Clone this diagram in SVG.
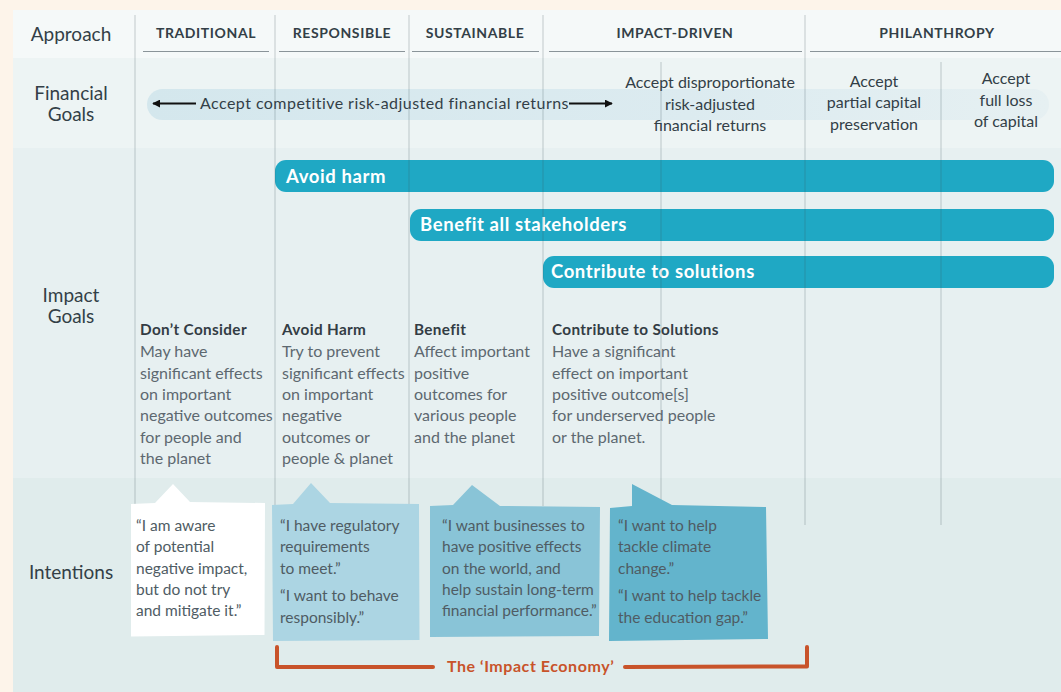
<svg xmlns="http://www.w3.org/2000/svg" width="1061" height="692" viewBox="0 0 1061 692">
<defs>
<style>
.lbl{font-family:Lato,"Liberation Sans",sans-serif;font-size:19px;fill:#333f47;text-anchor:middle}
.hd{font-family:Lato,"Liberation Sans",sans-serif;font-size:14px;font-weight:700;fill:#333f47;letter-spacing:0.6px;text-anchor:middle}
.fin{font-family:Lato,"Liberation Sans",sans-serif;font-size:16px;fill:#333f47;letter-spacing:0.45px}
.finc{font-family:Lato,"Liberation Sans",sans-serif;font-size:16px;fill:#333f47;text-anchor:middle}
.bar{fill:#1fa8c4}
.bt{font-family:Lato,"Liberation Sans",sans-serif;font-size:18.5px;font-weight:700;fill:#ffffff;letter-spacing:0.6px}
.ch{font-family:Lato,"Liberation Sans",sans-serif;font-size:15.3px;font-weight:700;fill:#333c44;letter-spacing:0.35px}
.cb{font-family:Lato,"Liberation Sans",sans-serif;font-size:16px;fill:#5d6870}
.qt{font-family:Lato,"Liberation Sans",sans-serif;font-size:15.5px;fill:#4f5c64}
.vl{stroke:#3c505a;stroke-opacity:0.28;stroke-width:1}
.ul{stroke:#8a9499;stroke-width:1.2}
.br{fill:none;stroke:#c8532a;stroke-width:4;stroke-linecap:round;stroke-linejoin:round}
.bk{font-family:Lato,"Liberation Sans",sans-serif;font-size:16px;font-weight:700;fill:#c8532a;letter-spacing:0.55px}
</style>
<linearGradient id="pill" x1="0" y1="0" x2="1" y2="0">
<stop offset="0" stop-color="#d4e7ed"/>
<stop offset="0.6" stop-color="#dcebf0"/>
<stop offset="1" stop-color="#e6f0f2"/>
</linearGradient>
<marker id="ah" viewBox="0 0 10 10" refX="9" refY="5" markerWidth="4" markerHeight="4" orient="auto-start-reverse">
<path d="M0,0 L10,5 L0,10 Z" fill="#111"/>
</marker>
</defs>

<rect x="0" y="0" width="1061" height="692" fill="#fdf4ea"/>
<g id="bands">
<rect x="13" y="10" width="1048" height="48" fill="#f5f9f9"/>
<rect x="13" y="58" width="1048" height="90" fill="#edf4f4"/>
<rect x="13" y="148" width="1048" height="330" fill="#e7f0f1"/>
<rect x="13" y="478" width="1048" height="214" fill="#e0ecec"/>
</g>

<g id="header">
<text class="lbl" x="71" y="41">Approach</text>
<text class="hd" x="206" y="38">TRADITIONAL</text>
<text class="hd" x="342" y="38">RESPONSIBLE</text>
<text class="hd" x="475" y="38">SUSTAINABLE</text>
<text class="hd" x="675" y="38">IMPACT-DRIVEN</text>
<text class="hd" x="937" y="38">PHILANTHROPY</text>
<line class="ul" x1="143" y1="51.5" x2="269" y2="51.5"/>
<line class="ul" x1="279" y1="51.5" x2="405" y2="51.5"/>
<line class="ul" x1="412" y1="51.5" x2="539" y2="51.5"/>
<line class="ul" x1="549" y1="51.5" x2="802" y2="51.5"/>
<line class="ul" x1="810" y1="51.5" x2="1061" y2="51.5"/>
</g>

<g id="financial-goals">
<text class="lbl" x="71" y="99.5">Financial</text>
<text class="lbl" x="71" y="120.5">Goals</text>
<rect x="147" y="89" width="902" height="31" rx="15.5" fill="url(#pill)"/>
<text class="fin" x="200" y="108.6">Accept competitive risk-adjusted financial returns</text>
<text class="finc" x="710" y="88">Accept disproportionate</text>
<text class="finc" x="710" y="109.5">risk-adjusted</text>
<text class="finc" x="710" y="130.5">financial returns</text>
<text class="finc" x="874" y="86.5">Accept</text>
<text class="finc" x="874" y="107.5">partial capital</text>
<text class="finc" x="874" y="129.5">preservation</text>
<text class="finc" x="1006" y="84">Accept</text>
<text class="finc" x="1006" y="105.5">full loss</text>
<text class="finc" x="1006" y="126.5">of capital</text>
</g>

<g id="impact-bars">
<rect class="bar" x="275" y="160" width="779" height="32" rx="11"/>
<text class="bt" x="286" y="182.5">Avoid harm</text>
<rect class="bar" x="410" y="209" width="644" height="32" rx="11"/>
<text class="bt" x="420" y="230.5">Benefit all stakeholders</text>
<rect class="bar" x="543" y="256" width="511" height="32" rx="11"/>
<text class="bt" x="551" y="277.5">Contribute to solutions</text>
</g>

<g id="impact-goals">
<text class="lbl" x="71" y="302">Impact</text>
<text class="lbl" x="71" y="323">Goals</text>
</g>

<g id="col-traditional">
<text class="ch" x="140" y="335">Don’t Consider</text>
<text class="cb" x="140" y="357.3">May have</text>
<text class="cb" x="140" y="378.7">significant effects</text>
<text class="cb" x="140" y="400">on important</text>
<text class="cb" x="140" y="421.4">negative outcomes</text>
<text class="cb" x="140" y="442.7">for people and</text>
<text class="cb" x="140" y="464">the planet</text>
</g>
<g id="col-responsible">
<text class="ch" x="282" y="335">Avoid Harm</text>
<text class="cb" x="282" y="357.3">Try to prevent</text>
<text class="cb" x="282" y="378.7">significant effects</text>
<text class="cb" x="282" y="400">on important</text>
<text class="cb" x="282" y="421.4">negative</text>
<text class="cb" x="282" y="442.7">outcomes or</text>
<text class="cb" x="282" y="464">people &amp; planet</text>
</g>
<g id="col-sustainable">
<text class="ch" x="414" y="335">Benefit</text>
<text class="cb" x="414" y="357.3">Affect important</text>
<text class="cb" x="414" y="378.7">positive</text>
<text class="cb" x="414" y="400">outcomes for</text>
<text class="cb" x="414" y="421.4">various people</text>
<text class="cb" x="414" y="442.7">and the planet</text>
</g>
<g id="col-impact">
<text class="ch" x="552" y="335">Contribute to Solutions</text>
<text class="cb" x="552" y="357.3">Have a significant</text>
<text class="cb" x="552" y="378.7">effect on important</text>
<text class="cb" x="552" y="400">positive outcome[s]</text>
<text class="cb" x="552" y="421.4">for underserved people</text>
<text class="cb" x="552" y="442.7">or the planet.</text>
</g>

<g id="connectors">
<line class="vl" x1="135" y1="15" x2="135" y2="505"/>
<line class="vl" x1="275" y1="15" x2="275" y2="505"/>
<line class="vl" x1="409" y1="15" x2="409" y2="505"/>
<line class="vl" x1="543" y1="15" x2="543" y2="506"/>
<line class="vl" x1="661" y1="62" x2="661" y2="503"/>
<line class="vl" x1="805" y1="15" x2="805" y2="525"/>
<line class="vl" x1="941" y1="62" x2="941" y2="525"/>
<line x1="196" y1="103.5" x2="153" y2="103.5" stroke="#111" stroke-width="2" marker-end="url(#ah)"/>
<line x1="569" y1="103.5" x2="612" y2="103.5" stroke="#111" stroke-width="2" marker-end="url(#ah)"/>
</g>

<g id="intentions">
<text class="lbl" x="71" y="578.6">Intentions</text>
</g>

<g id="bubble-traditional">
<path d="M131,504 L155,503 L173,484 L190,502 L265,503 L264.5,635 L131,636.5 Z" fill="#ffffff"/>
<text class="qt" x="136" y="530.5">“I am aware</text>
<text class="qt" x="136" y="551.5">of potential</text>
<text class="qt" x="136" y="573.5">negative impact,</text>
<text class="qt" x="136" y="594.5">but do not try</text>
<text class="qt" x="136" y="615.5">and mitigate it.”</text>
</g>
<g id="bubble-responsible">
<path d="M272,505 L293,504 L311,483 L330,503 L419,504 L419.5,640 L273,641 Z" fill="#acd5e3"/>
<text class="qt" x="280" y="530.5">“I have regulatory</text>
<text class="qt" x="280" y="551.5">requirements</text>
<text class="qt" x="280" y="573.5">to meet.”</text>
<text class="qt" x="280" y="600.5">“I want to behave</text>
<text class="qt" x="280" y="622.5">responsibly.”</text>
</g>
<g id="bubble-sustainable">
<path d="M430,506 L453,505 L472,485 L500,506 L600,507 L599,636 L430,637 Z" fill="#89c4d7"/>
<text class="qt" x="442" y="530.5">“I want businesses to</text>
<text class="qt" x="442" y="551.5">have positive effects</text>
<text class="qt" x="442" y="573.5">on the world, and</text>
<text class="qt" x="442" y="594.5">help sustain long-term</text>
<text class="qt" x="442" y="615.5">financial performance.”</text>
</g>
<g id="bubble-impact">
<path d="M610,508 L632,506 L632,484 L672,505 L766,507 L768,639 L609,641 Z" fill="#63b4cc"/>
<text class="qt" x="618" y="530.5">“I want to help</text>
<text class="qt" x="618" y="551.5">tackle climate</text>
<text class="qt" x="618" y="573.5">change.”</text>
<text class="qt" x="618" y="600.5">“I want to help tackle</text>
<text class="qt" x="618" y="622.5">the education gap.”</text>
</g>

<g id="impact-economy">
<path class="br" d="M277,647 L277,667 L433,667"/>
<path class="br" d="M625,667 L807,666.5 L807,647"/>
<text class="bk" x="447" y="672">The ‘Impact Economy’</text>
</g>
</svg>
